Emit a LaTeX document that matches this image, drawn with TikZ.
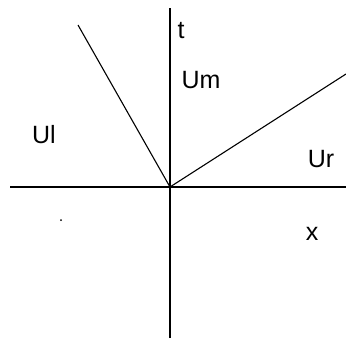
\documentclass[tikz,border=0pt]{standalone}
\usepackage{fontspec}
\setmainfont{Liberation Sans}
\usetikzlibrary{positioning}

\begin{document}
\begin{tikzpicture}[
  x=1pt, y=-1pt,
  axis/.style={draw=black, line width=1.6pt},
  ray/.style={draw=black, line width=1.1pt},
  lbl/.style={inner sep=0pt, anchor=base, font=\fontsize{25}{30}\selectfont},
]
  \useasboundingbox (0,0) rectangle (346,343);

  % axes
  \coordinate (origin) at (170,187);
  \coordinate (xleft) at (10,187);
  \coordinate (xright) at (346,187);
  \coordinate (ttop) at (170,8);
  \coordinate (tbottom) at (170,338);
  \draw[axis] (xleft) -- (xright);
  \draw[axis] (tbottom) -- (ttop);

  % rays from the origin
  \coordinate (leftend) at (78,25);
  \coordinate (rightend) at (346,74);
  \draw[ray] (origin) -- (leftend);
  \draw[ray] (origin) -- (rightend);

  % labels
  \node[lbl] (tlabel) at (181,38) {t};
  \node[lbl] (umlabel) at (201,88) {Um};
  \node[lbl] (ullabel) at (44,143) {Ul};
  \node[lbl] (urlabel) at (321,167) {Ur};
  \node[lbl] (xlabel) at (312,240) {x};
  \node[circle, fill=black, inner sep=0pt, minimum size=2pt] (speck) at (61,220) {};
\end{tikzpicture}
\end{document}
